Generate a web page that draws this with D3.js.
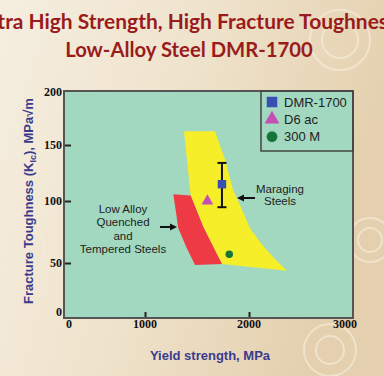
<!DOCTYPE html>
<html><head><meta charset="utf-8">
<script src="https://cdn.jsdelivr.net/npm/d3@7"></script>
<style>html,body{margin:0;padding:0;overflow:hidden;}svg{display:block;}</style>
</head><body>
<script>
// ---- data ----
const titleLines = ["Ultra High Strength, High Fracture Toughness", "Low-Alloy Steel DMR-1700"];
const xTicks = [0, 1000, 2000, 3000];
const yTicks = [0, 50, 100, 150, 200];
const xTickMarks = [1000, 2000];
const yTickMarks = [50, 100, 150];
const seriesNames = ["DMR-1700", "D6 ac", "300 M"];
const seriesX = [1740, 1600, 1810];
const seriesY = [115, 100, 57];
const dmrErrLow = 95, dmrErrHigh = 134;
const lowAlloyRegion = [[1272,106],[1439,105],[1561,79],[1740,49],[1481,48],[1401,62],[1320,78],[1298,91]];
const maragingRegion = [[1375,163],[1673,163],[1769,137],[1846,110],[1933,93],[2010,78],[2135,65],[2271,53],[2396,42],[1740,49],[1561,79],[1439,105]];
const lowAlloyLabel = ["Low Alloy", "Quenched", "and", "Tempered Steels"];
const maragingLabel = ["Maraging", "Steels"];

const W = 384, H = 376;
const svg = d3.select("body").append("svg").attr("width", W).attr("height", H);
const defs = svg.append("defs");
const bg = defs.append("linearGradient").attr("id","bg").attr("x1","0").attr("y1","0").attr("x2","1").attr("y2","0.3");
bg.append("stop").attr("offset","0").attr("stop-color","#f5eee0");
bg.append("stop").attr("offset","0.5").attr("stop-color","#efe3cc");
bg.append("stop").attr("offset","1").attr("stop-color","#e4d0ae");
svg.append("rect").attr("width",W).attr("height",H).attr("fill","url(#bg)");

// faint swirls
const sw = svg.append("g").attr("fill","none").attr("stroke","#f6ecd8").attr("stroke-width",2).attr("opacity",0.7);
[[340,40,30],[340,40,18],[370,240,22],[370,240,12],[330,350,26],[330,350,14],[20,250,25]].forEach(c=>{
  sw.append("circle").attr("cx",c[0]).attr("cy",c[1]).attr("r",c[2]);
});

// title
const title = svg.append("g").attr("font-family","Lato, 'Open Sans', sans-serif").attr("font-weight","bold").attr("fill","#9a1b1c");
const t2 = title.append("text").attr("x",189).attr("y",57).attr("text-anchor","middle").attr("font-size",18).text(titleLines[1]);
let w2 = t2.node().getComputedTextLength();
const fs = 18 * 248 / w2;
t2.attr("font-size", fs);
title.append("text").attr("x",187).attr("y",29).attr("text-anchor","middle").attr("font-size",fs*1.033).text(titleLines[0]);

// plot frame
const L = 64, R = 353, T = 91, B = 318;
svg.append("rect").attr("x",L).attr("y",T).attr("width",R-L).attr("height",B-T).attr("fill","#a2d8c0");

const x = d3.scaleLinear().domain(xTicks).range([69,145,249,345]);
const y = d3.scaleLinear().domain(yTicks).range([312,263,201,145,92]);

// regions
const line = d3.line().x(d=>x(d[0])).y(d=>y(d[1])).curve(d3.curveLinearClosed);
svg.append("path").attr("d", line(maragingRegion)).attr("fill","#f7ee2a");
svg.append("path").attr("d", line(lowAlloyRegion)).attr("fill","#ee3a45");

// axes (ticks pointing inward)
const yAxis = svg.append("g").attr("transform",`translate(${L},0)`)
  .call(d3.axisRight(y).tickValues(yTickMarks).tickSize(7).tickFormat(""));
yAxis.select(".domain").remove();
yAxis.selectAll("line").attr("stroke","#222").attr("stroke-width",2);
const xAxis = svg.append("g").attr("transform",`translate(0,${B})`)
  .call(d3.axisTop(x).tickValues(xTickMarks).tickSize(6).tickFormat(""));
xAxis.select(".domain").remove();
xAxis.selectAll("line").attr("stroke","#222").attr("stroke-width",2);

// tick labels
const tl = svg.append("g").attr("font-family","'Liberation Serif', serif").attr("font-weight","bold").attr("font-size",12).attr("fill","#111");
tl.selectAll(".yl").data(yTicks).join("text").attr("x",62).attr("y",d=>y(d)).attr("dy","0.35em").attr("text-anchor","end").text(d=>d);
tl.selectAll(".xl").data(xTicks).join("text").attr("x",d=>x(d)).attr("y",328).attr("text-anchor","middle").text(d=>d);

// frame border
svg.append("rect").attr("x",L).attr("y",T).attr("width",R-L).attr("height",B-T).attr("fill","none").attr("stroke","#555").attr("stroke-width",2);

// axis titles
svg.append("text").attr("x",210).attr("y",360).attr("text-anchor","middle")
  .attr("font-family","'Liberation Sans', Arial, sans-serif").attr("font-weight","bold").attr("font-size",13)
  .attr("fill","#3b3b8e").text("Yield strength, MPa");
const yt = svg.append("text").attr("transform","translate(33,201) rotate(-90)").attr("text-anchor","middle")
  .attr("font-family","'Liberation Sans', Arial, sans-serif").attr("font-weight","bold").attr("font-size",13).attr("fill","#3b3b8e");
yt.append("tspan").text("Fracture Toughness (K");
yt.append("tspan").attr("font-size",9).attr("dy",3).text("Ic");
yt.append("tspan").attr("dy",-3).text("), MPa\u221Am");

// error bar
const eb = svg.append("g").attr("stroke","#111").attr("stroke-width",2);
eb.append("line").attr("x1",x(seriesX[0])).attr("x2",x(seriesX[0])).attr("y1",y(dmrErrLow)).attr("y2",y(dmrErrHigh));
[dmrErrLow, dmrErrHigh].forEach(v=>eb.append("line").attr("x1",x(seriesX[0])-4.5).attr("x2",x(seriesX[0])+4.5).attr("y1",y(v)).attr("y2",y(v)));

const colors = ["#3a4fb4","#c64fb5","#17753a"];
const shapes = [d3.symbolSquare, d3.symbolTriangle, d3.symbolCircle];
const sizesPts = [72, 60, 44];
const sizesLeg = [110, 95, 90];
seriesNames.forEach((n,i)=>{
  svg.append("path").attr("d", d3.symbol(shapes[i], sizesPts[i])()).attr("fill",colors[i])
    .attr("transform",`translate(${x(seriesX[i])},${y(seriesY[i])})`);
});

// legend
const lg = svg.append("g");
lg.append("rect").attr("x",261).attr("y",91).attr("width",92).attr("height",60).attr("fill","none").attr("stroke","#444").attr("stroke-width",1.5);
seriesNames.forEach((n,i)=>{
  const cy = 102 + i*17.3;
  lg.append("path").attr("d", d3.symbol(shapes[i], sizesLeg[i])()).attr("fill",colors[i]).attr("transform",`translate(272,${cy})`);
  lg.append("text").attr("x",284).attr("y",cy).attr("dy","0.36em").attr("font-family","'Liberation Sans', Arial, sans-serif")
    .attr("font-size",13).attr("fill","#222").text(n);
});

// annotations
const ann = svg.append("g").attr("font-family","'Liberation Sans', Arial, sans-serif").attr("font-size",11.5).attr("fill","#222").attr("text-anchor","middle");
lowAlloyLabel.forEach((s,i)=>ann.append("text").attr("x",123).attr("y",209+i*13.4).attr("dy","0.35em").text(s));
maragingLabel.forEach((s,i)=>ann.append("text").attr("x",280).attr("y",188.5+i*12).attr("dy","0.35em").text(s));

// arrows
function arrow(x1,y1,x2,y2){
  const g = svg.append("g");
  const dir = Math.sign(x2-x1);
  g.append("line").attr("x1",x1).attr("y1",y1).attr("x2",x2-dir*5).attr("y2",y2).attr("stroke","#111").attr("stroke-width",2);
  g.append("path").attr("d",`M${x2},${y2} L${x2-dir*7},${y2-3.5} L${x2-dir*7},${y2+3.5} Z`).attr("fill","#111");
}
arrow(160,227,177,227);
arrow(255,198,237,198);
</script>
</body></html>
